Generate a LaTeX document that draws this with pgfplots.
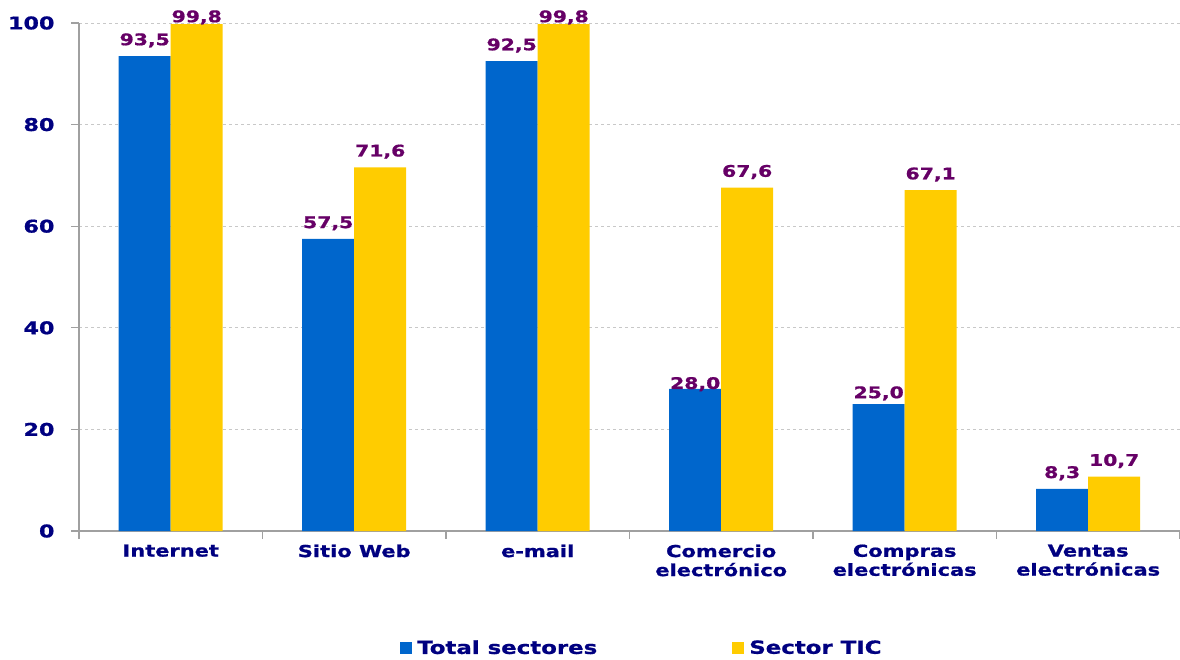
\documentclass[border=0pt]{standalone}
\usepackage{pgfplots}
\pgfplotsset{compat=1.18}
\usepackage{fontspec}
\setmainfont{DejaVu Sans}[FakeStretch=1.27, BoldFeatures={FakeBold=1}]
\definecolor{cblue}{HTML}{0066CC}
\definecolor{cyellow}{HTML}{FFCC00}
\definecolor{cpurple}{HTML}{660066}
\definecolor{cnavy}{HTML}{000080}
\definecolor{caxis}{HTML}{A0A0A0}
\definecolor{cgrid}{HTML}{C8C8C8}
\begin{document}
\begin{tikzpicture}
\useasboundingbox (0,0) rectangle (1180pt,659pt);
\begin{axis}[
 at={(79pt,128pt)}, anchor=south west,
 scale only axis, width=1101pt, height=508pt,
 ybar=0pt, bar width=52pt,
 xmin=-0.5, xmax=5.5, ymin=0, ymax=100,
 axis lines*=left,
 axis line style={caxis, line width=1.3pt},
 clip=false,
 xtick={0,...,5},
 xticklabels={Internet, Sitio Web, e-mail, {Comercio\\electrónico}, {Compras\\electrónicas}, {Ventas\\electrónicas}},
 major x tick style={draw=none},
 minor xtick={-0.5,0.5,...,5.5},
 minor x tick style={caxis, line width=1.3pt},
 ytick={0,20,...,100},
 y tick style={caxis, line width=1.3pt},
 tick align=outside,
 major tick length=8pt, minor tick length=8pt,
 ymajorgrids, major y grid style={cgrid, dashed, line width=0.8pt},
 /pgf/number format/assume math mode=true,
 xticklabel style={font=\fontsize{16.5}{19}\selectfont\bfseries, text=cnavy, align=center, yshift=-2pt},
 yticklabel style={font=\fontsize{17.5}{20}\selectfont\bfseries, text=cnavy, xshift=-13pt},
 visualization depends on={\thisrow{off} \as \off},
 nodes near coords={\pgfmathprintnumber[fixed,fixed zerofill,precision=1,use comma]{\pgfplotspointmeta}},
 every node near coord/.append style={font=\fontsize{16}{20}\selectfont\bfseries, text=cpurple, yshift=\off pt},
 legend columns=2,
 legend style={at={(0.2916,-0.230)}, anchor=west, draw=none, inner sep=0pt,
   font=\fontsize{18}{20}\selectfont\bfseries, text=cnavy,
   /tikz/every odd column/.append style={column sep=3pt},
   /tikz/every even column/.append style={column sep=133pt}},
 legend image code/.code={\fill[#1] (0pt,-6pt) rectangle (12pt,6pt);},
]
\addplot[fill=cblue, draw=none] table[meta=y] {
x y off
0 93.5 5
1 57.5 5
2 92.5 5
3 28.0 -6
4 25.0 0
5 8.3 5
};
\addplot[fill=cyellow, draw=none] table[meta=y] {
x y off
0 99.8 -4
1 71.6 5
2 99.8 -4
3 67.6 5
4 67.1 5
5 10.7 5
};
\legend{Total sectores, Sector TIC}
\end{axis}
\end{tikzpicture}
\end{document}
